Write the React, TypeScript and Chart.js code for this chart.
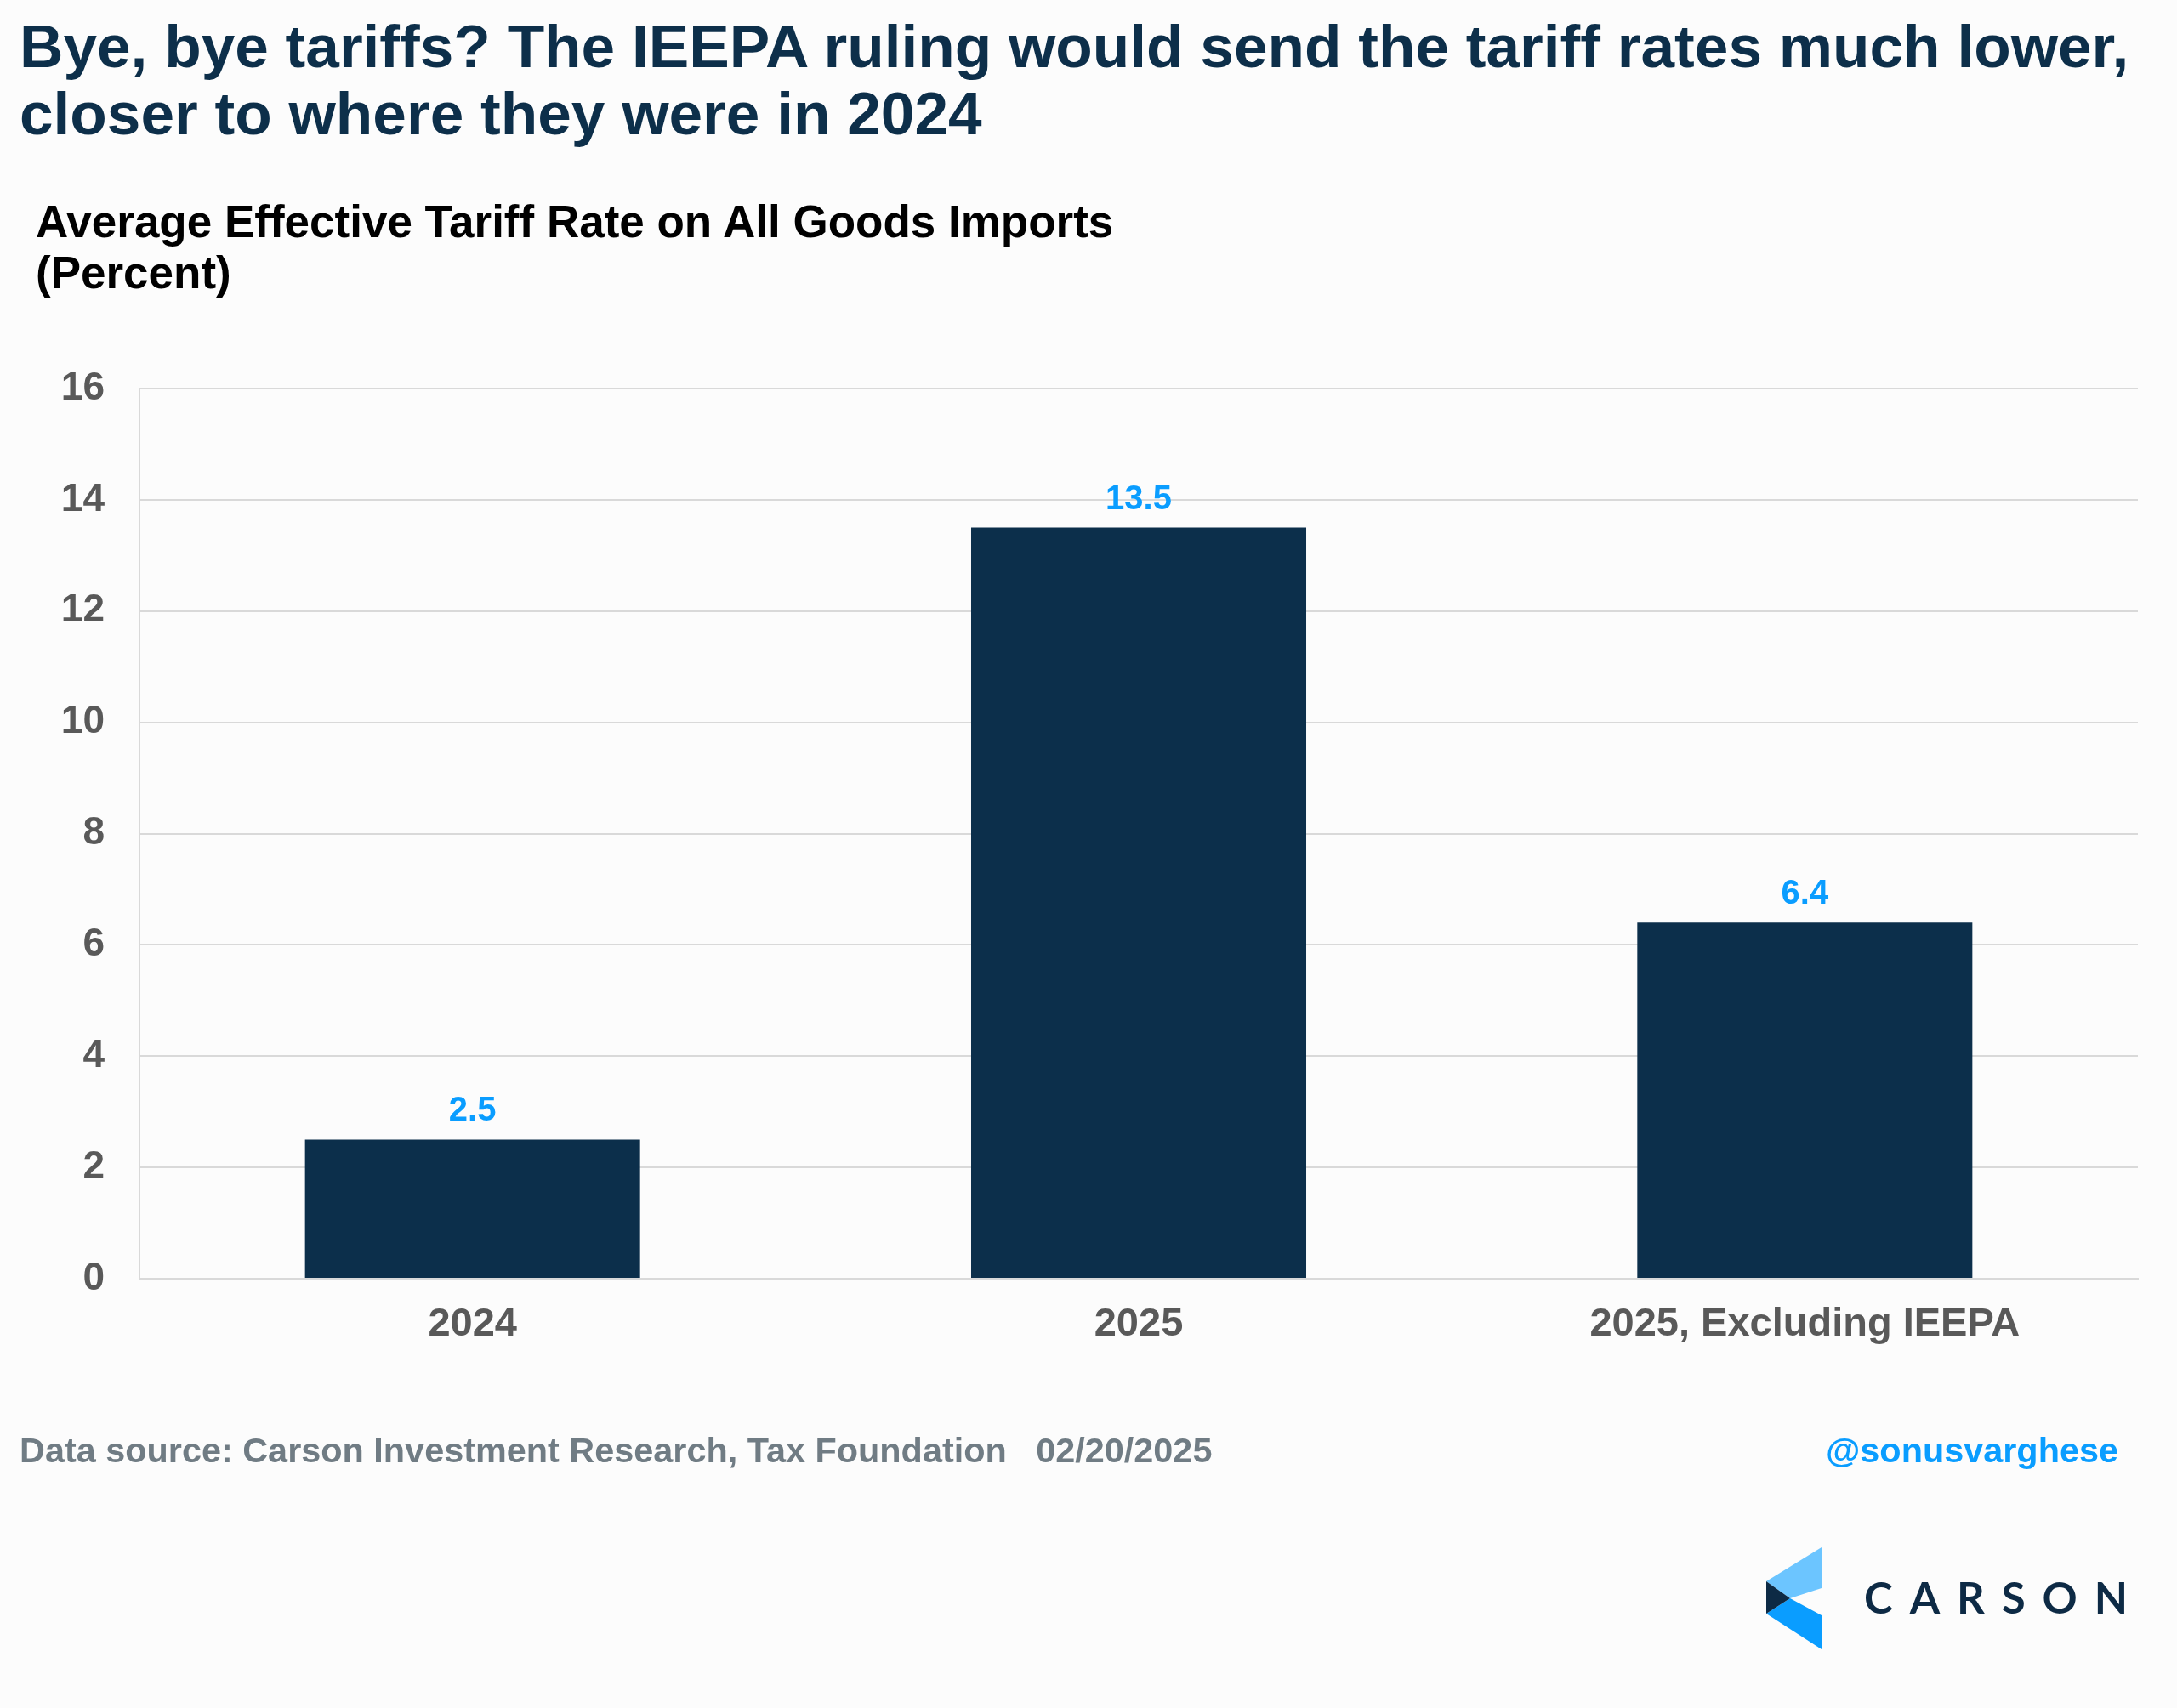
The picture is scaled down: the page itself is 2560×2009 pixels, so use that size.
import React, { useEffect, useRef } from "react";
import { Chart, registerables } from "chart.js";

Chart.register(...registerables);

const categories: string[] = ["2024", "2025", "2025, Excluding IEEPA"];
const tariffRates: number[] = [2.5, 13.5, 6.4];
const yTicks: number[] = [0, 2, 4, 6, 8, 10, 12, 14, 16];

const TITLE_LINES = [
  "Bye, bye tariffs? The IEEPA ruling would send the tariff rates much lower,",
  "closer to where they were in 2024",
];
const SUBTITLE_LINES = ["Average Effective Tariff Rate on All Goods Imports", "(Percent)"];
const SOURCE_TEXT = "Data source: Carson Investment Research, Tax Foundation   02/20/2025";
const HANDLE_TEXT = "@sonusvarghese";

const FONT = '"Liberation Sans", Arial, Helvetica, sans-serif';
const NAVY = "#0d2f4a";
const BAR = "#0c2f4b";
const BRIGHT = "#0a9dff";
const TICK = "#595959";
const GRID = "#d9d9d9";

const valueLabels = {
  id: "valueLabels",
  afterDatasetsDraw(chart: any) {
    const ctx = chart.ctx;
    const meta = chart.getDatasetMeta(0);
    ctx.save();
    ctx.font = `bold 40px ${FONT}`;
    ctx.fillStyle = BRIGHT;
    ctx.textAlign = "center";
    ctx.textBaseline = "alphabetic";
    meta.data.forEach((bar: any, i: number) => {
      const v = chart.data.datasets[0].data[i] as number;
      ctx.fillText(v.toFixed(1), bar.x, bar.y - 22);
    });
    ctx.restore();
  },
};

export default function App() {
  const canvasRef = useRef<HTMLCanvasElement | null>(null);

  useEffect(() => {
    document.body.style.margin = "0";
    document.body.style.background = "#fcfcfc";
    const canvas = canvasRef.current;
    if (!canvas) return;
    const chart = new Chart(canvas, {
      type: "bar",
      data: {
        labels: categories,
        datasets: [
          {
            data: tariffRates,
            backgroundColor: BAR,
            borderWidth: 0,
            barPercentage: 0.503,
            categoryPercentage: 1,
          },
        ],
      },
      options: {
        responsive: false,
        animation: false,
        layout: { padding: { left: 0, top: 457, right: 46, bottom: 0 } },
        plugins: {
          legend: { display: false },
          title: { display: false },
          tooltip: { enabled: false },
        },
        scales: {
          x: {
            grid: { display: false, drawTicks: false },
            border: { display: true, color: GRID, width: 2 },
            ticks: {
              color: TICK,
              padding: 26,
              font: { family: FONT, size: 47, weight: "bold" },
              maxRotation: 0,
              autoSkip: false,
            },
            afterFit: (scale: any) => {
              scale.height = 505;
            },
          },
          y: {
            min: 0,
            max: 16,
            afterBuildTicks: (scale: any) => {
              scale.ticks = yTicks.map((v) => ({ value: v }));
            },
            grid: { display: true, color: GRID, lineWidth: 2, drawTicks: false },
            border: { display: true, color: GRID, width: 2 },
            ticks: {
              color: TICK,
              padding: 41,
              font: { family: FONT, size: 46, weight: "bold" },
            },
            afterFit: (scale: any) => {
              scale.width = 164;
            },
          },
        },
      },
      plugins: [valueLabels],
    });
    return () => chart.destroy();
  }, []);

  return (
    <div
      style={{
        position: "relative",
        width: 2560,
        height: 2009,
        background: "#fcfcfc",
        overflow: "hidden",
        fontFamily: FONT,
      }}
    >
      <div
        style={{
          position: "absolute",
          left: 23,
          top: 15,
          fontSize: 71.2,
          lineHeight: "79px",
          fontWeight: "bold",
          color: NAVY,
          whiteSpace: "nowrap",
        }}
      >
        {TITLE_LINES.map((l, i) => (
          <div key={i}>{l}</div>
        ))}
      </div>
      <div
        style={{
          position: "absolute",
          left: 42,
          top: 231,
          fontSize: 53,
          lineHeight: "60px",
          fontWeight: "bold",
          color: "#000",
          whiteSpace: "nowrap",
        }}
      >
        {SUBTITLE_LINES.map((l, i) => (
          <div key={i}>{l}</div>
        ))}
      </div>
      <canvas
        ref={canvasRef}
        width={2560}
        height={2009}
        style={{ position: "absolute", left: 0, top: 0, width: 2560, height: 2009 }}
      />
      <div
        style={{
          position: "absolute",
          left: 23,
          top: 1686,
          fontSize: 41.4,
          lineHeight: "41px",
          fontWeight: "bold",
          color: "#707c84",
          whiteSpace: "pre",
        }}
      >
        {SOURCE_TEXT}
      </div>
      <div
        style={{
          position: "absolute",
          right: 69,
          top: 1686,
          fontSize: 41.4,
          lineHeight: "41px",
          fontWeight: "bold",
          color: BRIGHT,
          whiteSpace: "pre",
        }}
      >
        {HANDLE_TEXT}
      </div>
      <svg
        width={2560}
        height={2009}
        style={{ position: "absolute", left: 0, top: 0, pointerEvents: "none" }}
      >
        <polygon points="2077,1860 2142,1820 2142,1868 2105,1880" fill="#6cc5ff" />
        <polygon points="2077,1898 2105,1880 2142,1900 2142,1940" fill="#0a9dff" />
        <polygon points="2077,1860 2105,1880 2077,1898" fill="#0d2a45" />
        <text
          x={2192}
          y={1898}
          fontFamily="Lato, 'Open Sans', sans-serif"
          fontWeight={700}
          fontSize={51}
          fill="#0d2a45"
          textLength={310}
          lengthAdjust="spacing"
        >
          CARSON
        </text>
      </svg>
    </div>
  );
}
